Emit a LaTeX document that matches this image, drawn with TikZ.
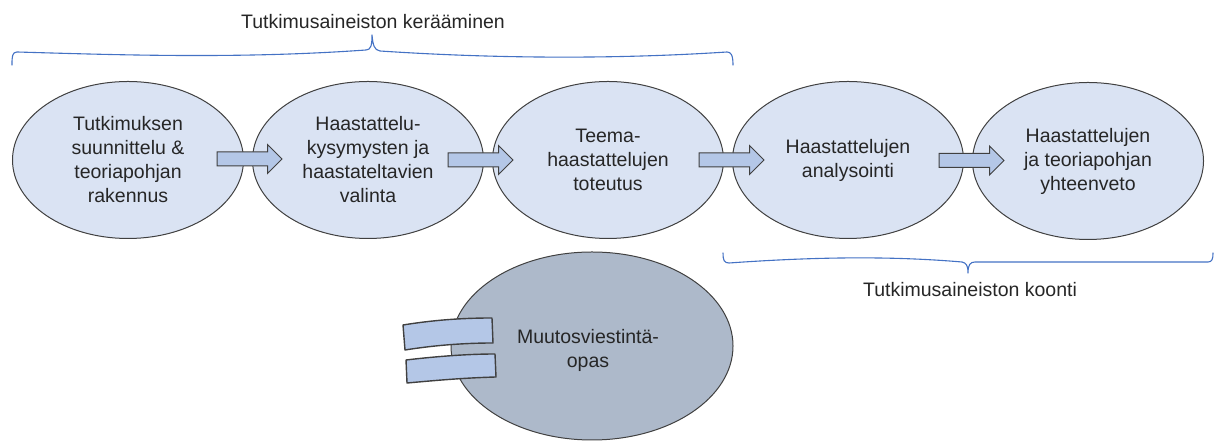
\documentclass[tikz,border=0pt]{standalone}
\usepackage{fontspec}
\setmainfont{Liberation Sans}
\usetikzlibrary{shapes.geometric,shapes.arrows,calc}
\definecolor{ellfill}{HTML}{DAE3F3}
\definecolor{arrfill}{HTML}{B4C7E7}
\definecolor{outl}{HTML}{404040}
\definecolor{gfill}{HTML}{ADB9CA}
\definecolor{bracecol}{HTML}{4472C4}
\definecolor{txt}{HTML}{262626}
\begin{document}
\begin{tikzpicture}[x=1pt,y=1pt,
  txtstyle/.style={text=txt, font=\fontsize{19.5}{24}\selectfont, align=center},
  stage/.style={ellipse, draw=outl, line width=1pt, fill=ellfill,
    minimum width=231pt, minimum height=157pt, inner sep=0pt, txtstyle},
  blockarr/.style={single arrow, draw=outl, line width=1pt, fill=arrfill,
    minimum height=65pt, minimum width=1pt, single arrow head extend=7.5pt,
    inner xsep=0pt, inner ysep=6.5pt, single arrow tip angle=90,
    single arrow head indent=0pt},
  bracestyle/.style={draw=bracecol, line width=1.1pt, line cap=round, line join=round},
  tabstyle/.style={draw=outl, line width=1.4pt, fill=arrfill, line join=round},
  bigstage/.style={ellipse, draw=outl, line width=1pt, fill=gfill,
    minimum width=282pt, minimum height=188pt, inner sep=0pt}
]
\useasboundingbox (0,0) rectangle (1214,443);

% braces
\draw[bracestyle] (12,378) .. controls (12,386) and (12,391) .. (17,391)
  .. controls (120,388) and (240,384) .. (366,393)
  .. controls (371,393) and (372,398) .. (372,408)
  .. controls (373,398) and (374,393) .. (380,392)
  .. controls (500,384) and (620,384) .. (727,391)
  .. controls (731,391) and (733,388) .. (733,378);
\node[txtstyle] (toplabel) at (373,421) {Tutkimusaineiston kerääminen};

\draw[bracestyle] (723,190) .. controls (723,183) and (724,180) .. (729,180)
  .. controls (800,185) and (880,188) .. (962,181)
  .. controls (966,180) and (968,178) .. (968,170)
  .. controls (968,178) and (970,181) .. (975,181)
  .. controls (1060,181) and (1140,181) .. (1208,181)
  .. controls (1212,181) and (1213,184) .. (1213,190);
\node[txtstyle] (botlabel) at (970,153) {Tutkimusaineiston koonti};

% stages
\node[stage] (e1) at (128,283) {Tutkimuksen\\suunnittelu \&\\teoriapohjan\\rakennus};
\node[stage] (e2) at (368,283) {Haastattelu-\\kysymysten ja\\haastateltavien\\valinta};
\node[stage] (e3) at (608,283) {Teema-\\haastattelujen\\toteutus};
\node[stage] (e4) at (848,283) {Haastattelujen\\analysointi};
\node[stage] (e5) at (1088,282) {Haastattelujen\\ja teoriapohjan\\yhteenveto};

% arrows
\node[blockarr] (a1) at ($(e1)!0.5!(e2)+(-2,1)$) {};
\node[blockarr] (a2) at ($(e2)!0.5!(e3)+(-11,0)$) {};
\node[blockarr] (a3) at ($(e3)!0.5!(e4)+(0,0)$) {};
\node[blockarr] (a4) at ($(e4)!0.5!(e5)+(0,0)$) {};

% bottom
\node[bigstage] (guide) at (592,97) {};
\node[txtstyle] (guidetext) at ($(guide.center)+(-4,-4.5)$) {Muutosviestintä-\\opas};
\draw[tabstyle] (403,118) .. controls (440,124) and (470,125) .. (492,125)
  -- (493,100) .. controls (460,100) and (430,97) .. (405,93) -- cycle;
\draw[tabstyle] (406,83) .. controls (440,87) and (470,89) .. (495,89)
  -- (496,66) .. controls (460,65) and (430,62) .. (407,60) -- cycle;
\end{tikzpicture}
\end{document}
